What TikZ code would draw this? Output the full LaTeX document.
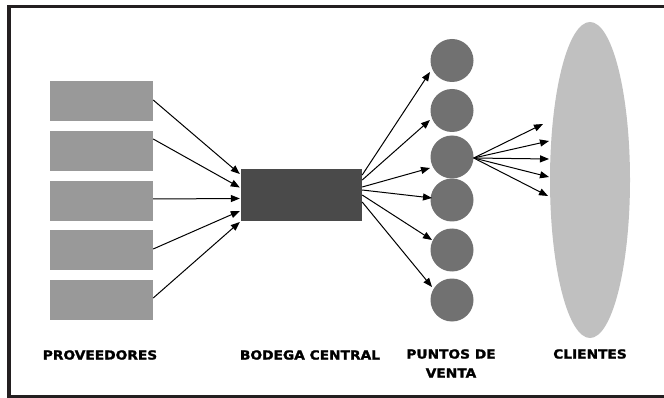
\documentclass[tikz,border=0pt]{standalone}
\usepackage{fontspec}
\usetikzlibrary{arrows.meta,shapes.geometric}
\newfontfamily\lblfont{DejaVu Sans Bold}[FakeBold=1.6]
\newcommand{\lbltxt}[1]{\scalebox{1.1}[1]{\lblfont\fontsize{12.5}{19}\selectfont #1}}
\definecolor{provgray}{HTML}{999999}
\definecolor{bodgray}{HTML}{4A4A4A}
\definecolor{ptgray}{HTML}{717171}
\definecolor{cligray}{HTML}{C0C0C0}
\definecolor{framecol}{HTML}{231F20}
\tikzset{
  provbox/.style={rectangle,fill=provgray,minimum width=103pt,minimum height=40pt,inner sep=0pt},
  bodbox/.style={rectangle,fill=bodgray,minimum width=121pt,minimum height=52pt,inner sep=0pt},
  ptcirc/.style={circle,fill=ptgray,minimum size=43pt,inner sep=0pt},
  cliell/.style={ellipse,fill=cligray,minimum width=80pt,minimum height=316pt,inner sep=0pt},
  arr/.style={draw=black,line width=1pt,-{Triangle[length=9pt,width=7pt]}},
  lbl/.style={inner sep=0pt,align=center}
}
\begin{document}
\begin{tikzpicture}[x=1pt,y=-1pt]
\useasboundingbox (0,0) rectangle (664,398);
\fill[white] (0,0) rectangle (664,398);
\draw[framecol,line width=3.8pt] (700,6.5) -- (9,6.5) -- (9,396.5) -- (700,396.5);

% proveedores
\node[provbox] (p1) at (101.5,101) {};
\node[provbox] (p2) at (101.5,151) {};
\node[provbox] (p3) at (101.5,201) {};
\node[provbox] (p4) at (101.5,250) {};
\node[provbox] (p5) at (101.5,300) {};

% bodega
\node[bodbox] (bod) at (301.5,195) {};

% puntos de venta
\node[ptcirc] (c1) at (452,60.5) {};
\node[ptcirc] (c2) at (452,110.5) {};
\node[ptcirc] (c3) at (452,157) {};
\node[ptcirc] (c4) at (452,200) {};
\node[ptcirc] (c5) at (452,250) {};
\node[ptcirc] (c6) at (452,300) {};

% clientes
\node[cliell] (cli) at (590,180) {};

% arrows proveedores -> bodega
\draw[arr] ([shift={(0,-1)}]p1.east) -- ([shift={(-1,-21)}]bod.west);
\draw[arr] ([shift={(0,-12)}]p2.east) -- ([shift={(-1,-7.5)}]bod.west);
\draw[arr] ([shift={(0,-2)}]p3.east) -- ([shift={(-1,3.5)}]bod.west);
\draw[arr] ([shift={(0,-1)}]p4.east) -- ([shift={(-1,16)}]bod.west);
\draw[arr] ([shift={(0,-2)}]p5.east) -- ([shift={(-1,27)}]bod.west);

% arrows bodega -> puntos
\draw[arr] ([shift={(0,-20)}]bod.east) -- ([shift={(-22,11.5)}]c1.center);
\draw[arr] ([shift={(0,-15)}]bod.east) -- ([shift={(-22,9.5)}]c2.center);
\draw[arr] ([shift={(0,-8)}]bod.east) -- ([shift={(-22,11)}]c3.center);
\draw[arr] ([shift={(0,-5)}]bod.east) -- ([shift={(-20,-2)}]c4.center);
\draw[arr] ([shift={(0,0)}]bod.east) -- ([shift={(-20,-10)}]c5.center);
\draw[arr] ([shift={(0,7)}]bod.east) -- ([shift={(-20,-13)}]c6.center);

% arrows punto -> clientes
\draw[arr] ([shift={(0,1)}]c3.east) -- ([shift={(-47,-56)}]cli.center);
\draw[arr] ([shift={(0,1)}]c3.east) -- ([shift={(-41,-39)}]cli.center);
\draw[arr] ([shift={(0,1)}]c3.east) -- ([shift={(-41,-21)}]cli.center);
\draw[arr] ([shift={(0,1)}]c3.east) -- ([shift={(-41,-3)}]cli.center);
\draw[arr] ([shift={(0,1)}]c3.east) -- ([shift={(-42,16)}]cli.center);

% labels
\node[lbl] (lprov) at (100,355) {\lbltxt{PROVEEDORES}};
\node[lbl] (lbod) at (310,355) {\lbltxt{BODEGA CENTRAL}};
\node[lbl] (lpt1) at (451,354) {\lbltxt{PUNTOS DE}};
\node[lbl] (lpt2) at (451,373) {\lbltxt{VENTA}};
\node[lbl] (lcli) at (590,354) {\lbltxt{CLIENTES}};
\end{tikzpicture}
\end{document}
